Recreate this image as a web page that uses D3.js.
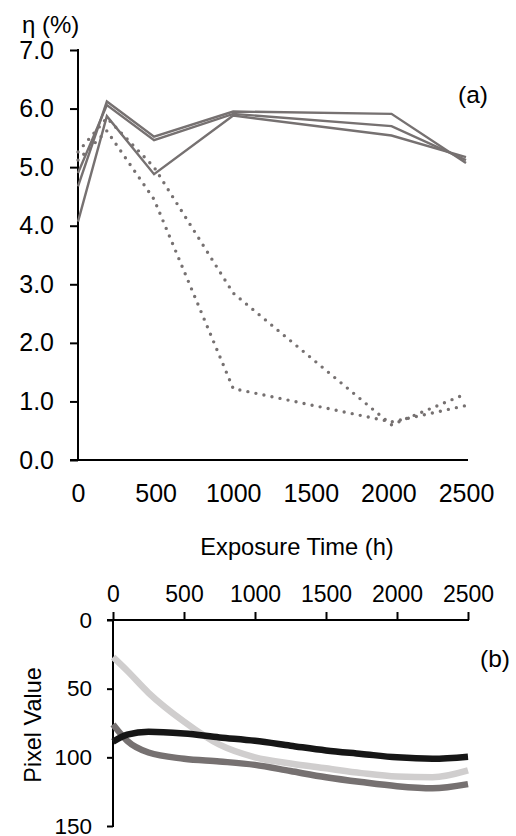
<!DOCTYPE html>
<html><head><meta charset="utf-8">
<script src="https://cdn.jsdelivr.net/npm/d3@7"></script>
<style>body{margin:0;background:#fff}svg{display:block}text{font-family:"Liberation Sans",Arial,sans-serif;fill:#000}</style>
</head><body>
<script>
// ---- Panel (a) data ----
const timesA = [0, 186, 490, 1000, 2020, 2500];
const solid1 = [4.07, 5.87, 4.88, 5.88, 5.54, 5.17];
const solid2 = [4.67, 6.12, 5.52, 5.95, 5.91, 5.07];
const solid3 = [4.90, 6.06, 5.46, 5.91, 5.70, 5.12];
const dotted1 = [5.12, 5.62, 4.45, 1.22, 0.65, 0.93];
const dotted2 = [5.26, 5.84, 5.00, 2.85, 0.60, 1.13];
const yTicksA = [0, 1, 2, 3, 4, 5, 6, 7];
const xTicks = [0, 500, 1000, 1500, 2000, 2500];

// ---- Panel (b) data ----
const timesB = [0, 100, 250, 500, 750, 1000, 1250, 1500, 1750, 2000, 2250, 2500];
const pixelBlack = [88.6, 83.5, 81.3, 82.7, 85.5, 88, 91.5, 95, 97.5, 100, 101, 99.5];
const pixelLight = [27, 37, 53, 74, 90.8, 100, 104.5, 108, 111.5, 114, 114.5, 109.5];
const pixelDark = [76, 88, 96.5, 101, 103, 105.5, 110, 114.5, 118, 121, 122.5, 119.5];
const yTicksB = [0, 50, 100, 150];

const W = 516, H = 836;
const svg = d3.select("body").append("svg").attr("width", W).attr("height", H);
const FONT = '"Liberation Sans",Arial,sans-serif';
const gray = "#767171";

// ---------- Panel (a) ----------
const xA = d3.scaleLinear().domain([0, 2500]).range([78, 466]);
const yA = d3.scaleLinear().domain([0, 7]).range([460, 50]);

const gxA = svg.append("g").attr("transform", "translate(0,460)")
  .call(d3.axisBottom(xA).tickValues(xTicks).tickSize(0).tickPadding(0).tickFormat(d3.format("d")));
gxA.select(".domain").remove();
gxA.selectAll("text").attr("y", 0).attr("dy", 42).style("font-size", "25px").style("font-family", FONT);
svg.append("line").attr("x1", 70).attr("x2", 468).attr("y1", 460).attr("y2", 460).attr("stroke", "#000").attr("stroke-width", 2);

const gyA = svg.append("g").attr("transform", "translate(78,0)")
  .call(d3.axisLeft(yA).tickValues(yTicksA).tickSize(8).tickPadding(16).tickFormat(d3.format(".1f")));
gyA.select(".domain").remove();
gyA.selectAll("line").attr("stroke", "#000").attr("stroke-width", 2);
gyA.selectAll("text").style("font-size", "25px").style("font-family", FONT);
svg.append("line").attr("x1", 78).attr("x2", 78).attr("y1", 49).attr("y2", 461).attr("stroke", "#000").attr("stroke-width", 2);

const lineA = d3.line().x((d, i) => xA(timesA[i])).y(d => yA(d));
[solid1, solid2, solid3].forEach(s => {
  svg.append("path").attr("d", lineA(s)).attr("fill", "none").attr("stroke", gray).attr("stroke-width", 2.4);
});
[dotted1, dotted2].forEach(s => {
  svg.append("path").attr("d", lineA(s)).attr("fill", "none").attr("stroke", gray).attr("stroke-width", 3.4)
    .attr("stroke-linecap", "round").attr("stroke-dasharray", "0,8.2");
});

svg.append("text").attr("x", 22).attr("y", 33).style("font-size", "24px").text("η (%)");
svg.append("text").attr("x", 458).attr("y", 103).style("font-size", "24.5px").text("(a)");
svg.append("text").attr("x", 297).attr("y", 555).attr("text-anchor", "middle").style("font-size", "23.7px").text("Exposure Time (h)");

// ---------- Panel (b) ----------
const xB = d3.scaleLinear().domain([0, 2500]).range([113, 468]);
const yB = d3.scaleLinear().domain([0, 150]).range([620, 826]);

const gxB = svg.append("g").attr("transform", "translate(0,620)")
  .call(d3.axisTop(xB).tickValues(xTicks).tickSize(8).tickPadding(10).tickFormat(d3.format("d")));
gxB.select(".domain").remove();
gxB.selectAll("line").attr("stroke", "#000").attr("stroke-width", 2);
gxB.selectAll("text").style("font-size", "23px").style("font-family", FONT);
svg.append("line").attr("x1", 107).attr("x2", 469).attr("y1", 620).attr("y2", 620).attr("stroke", "#000").attr("stroke-width", 2);

const gyB = svg.append("g").attr("transform", "translate(113,0)")
  .call(d3.axisLeft(yB).tickValues(yTicksB).tickSize(6).tickPadding(15));
gyB.select(".domain").remove();
gyB.selectAll("line").attr("stroke", "#000").attr("stroke-width", 2);
gyB.selectAll("text").style("font-size", "22.5px").style("font-family", FONT);
svg.append("line").attr("x1", 113).attr("x2", 113).attr("y1", 619).attr("y2", 827).attr("stroke", "#000").attr("stroke-width", 2);

const lineB = d3.line().x((d, i) => xB(timesB[i])).y(d => yB(d)).curve(d3.curveMonotoneX);
[[pixelLight, "#d0cece"], [pixelDark, "#767171"], [pixelBlack, "#161616"]].forEach(([s, c]) => {
  svg.append("path").attr("d", lineB(s)).attr("fill", "none").attr("stroke", c).attr("stroke-width", 6.5);
});

svg.append("text").attr("transform", "translate(41,725) rotate(-90)").attr("text-anchor", "middle").style("font-size", "23.4px").text("Pixel Value");
svg.append("text").attr("x", 480).attr("y", 667).style("font-size", "24.5px").text("(b)");
</script>
</body></html>
